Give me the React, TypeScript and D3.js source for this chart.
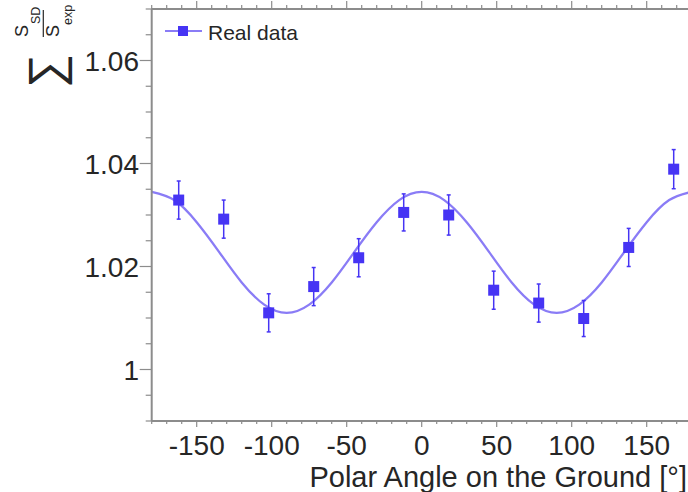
import React from "react";
import * as d3 from "d3";

const angles = [-162, -132, -102, -72, -42, -12, 18, 48, 78, 108, 138, 168];
const ratios = [1.0329, 1.0292, 1.011, 1.0161, 1.0217, 1.0305, 1.03, 1.0154, 1.0129, 1.0099, 1.0237, 1.0389];
const errors = [0.0037, 0.0037, 0.0037, 0.0037, 0.0037, 0.0036, 0.0039, 0.0037, 0.0037, 0.0035, 0.0037, 0.0038];

const fitAngles = [-180, -165, -150, -135, -120, -105, -90, -75, -60, -45, -30, -15, 0, 15, 30, 45, 60, 75, 90, 105, 120, 135, 150, 165, 180];
const fitValues = [1.0345, 1.0329, 1.0286, 1.0228, 1.0169, 1.0126, 1.011, 1.0126, 1.0169, 1.0228, 1.0286, 1.0329, 1.0345, 1.0329, 1.0286, 1.0228, 1.0169, 1.0126, 1.011, 1.0126, 1.0169, 1.0228, 1.0286, 1.0329, 1.0345];

const xTickValues = [-150, -100, -50, 0, 50, 100, 150];
const yTickValues = [1, 1.02, 1.04, 1.06];
const yTickLabels = ["1", "1.02", "1.04", "1.06"];

const legendLabel = "Real data";
const xTitle = "Polar Angle on the Ground [°]";

const W = 688;
const H = 492;
const FONT = "'Liberation Sans', Arial, Helvetica, sans-serif";
const MARK = "#4634f4";
const LINE = "#8a7cf6";
const AXIS = "#8c8c8c";
const TEXT = "#262626";

export default function App() {
  const x = d3.scaleLinear().domain([-180, 180]).range([151.7, 691.7]);
  const y = d3.scaleLinear().domain([0.99, 1.07]).range([421, 9]);
  const x0 = x(-180);
  const x1 = x(180);
  const y0 = y(0.99);
  const y1 = y(1.07);

  const xMinor = d3.range(-180, 181, 10);
  const yMinor = d3.range(0, 17).map((i) => 0.99 + i * 0.005);

  const line = d3
    .line<number>()
    .x((_, i) => x(fitAngles[i]))
    .y((d) => y(d))
    .curve(d3.curveNatural);

  const sq = 11;

  return (
    <svg width={W} height={H} style={{ position: "absolute", left: 0, top: 0, background: "#fff" }} fontFamily={FONT}>
      <rect x={0} y={0} width={W} height={H} fill="#fff" />
      {/* fit curve */}
      <path d={line(fitValues) || ""} fill="none" stroke={LINE} strokeWidth={2.3} />

      {/* data */}
      {angles.map((a, i) => {
        const cx = x(a);
        const cy = y(ratios[i]);
        const top = y(ratios[i] + errors[i]);
        const bot = y(ratios[i] - errors[i]);
        return (
          <g key={i}>
            <line x1={cx} x2={cx} y1={top} y2={bot} stroke={MARK} strokeWidth={1.5} />
            <line x1={cx - 2} x2={cx + 2} y1={top} y2={top} stroke={MARK} strokeWidth={1.5} />
            <line x1={cx - 2} x2={cx + 2} y1={bot} y2={bot} stroke={MARK} strokeWidth={1.5} />
            <rect x={cx - sq / 2} y={cy - sq / 2} width={sq} height={sq} fill={MARK} />
          </g>
        );
      })}

      {/* axes lines */}
      <line x1={x0} x2={x1} y1={y0} y2={y0} stroke={AXIS} strokeWidth={2} />
      <line x1={x0} x2={x1} y1={y1} y2={y1} stroke={AXIS} strokeWidth={2} />
      <line x1={x0} x2={x0} y1={y0} y2={y1} stroke={AXIS} strokeWidth={2} />

      {/* x ticks bottom & top */}
      {xMinor.map((v) => {
        const major = v % 50 === 0;
        return (
          <g key={"xt" + v}>
            <line x1={x(v)} x2={x(v)} y1={y0} y2={y0 + (major ? 6 : 3)} stroke={AXIS} strokeWidth={1.2} />
            <line x1={x(v)} x2={x(v)} y1={y1} y2={y1 - (major ? 8 : 4)} stroke={AXIS} strokeWidth={1.2} />
          </g>
        );
      })}
      {/* y ticks */}
      {yMinor.map((v, i) => {
        const major = i % 4 === 2;
        return (
          <line key={"yt" + i} x1={x0} x2={x0 - (major ? 12 : 6)} y1={y(v)} y2={y(v)} stroke={AXIS} strokeWidth={1.2} />
        );
      })}

      {/* tick labels */}
      {xTickValues.map((v) => (
        <text key={"xl" + v} x={x(v)} y={455} textAnchor="middle" fontSize={28} fill={TEXT}>
          {v}
        </text>
      ))}
      {yTickValues.map((v, i) => (
        <text key={"yl" + v} x={139} y={y(v) + 10} textAnchor="end" fontSize={28} fill={TEXT}>
          {yTickLabels[i]}
        </text>
      ))}

      {/* x title */}
      <text x={687} y={487} textAnchor="end" fontSize={29} fill={TEXT}>
        {xTitle}
      </text>

      {/* y title */}
      <g transform="translate(62,88) rotate(-90)" fill={TEXT}>
        <text x={0} y={0} fontSize={48}>∑</text>
      </g>
      <g transform="translate(68,88) rotate(-90)" fill={TEXT}>
        <text x={51} y={-40} fontSize={18}>S</text>
        <text x={64} y={-28} fontSize={12.5}>SD</text>
        <line x1={51} x2={78} y1={-24.7} y2={-24.7} stroke={TEXT} strokeWidth={1.2} />
        <text x={51} y={-9} fontSize={18}>S</text>
        <text x={63} y={4} fontSize={12.5}>exp</text>
      </g>

      {/* legend */}
      <line x1={165} x2={202} y1={31} y2={31} stroke={LINE} strokeWidth={2} />
      <rect x={183 - 5} y={31 - 5} width={10} height={10} fill={MARK} />
      <text x={208} y={40} fontSize={21} fill={TEXT}>
        {legendLabel}
      </text>
    </svg>
  );
}
